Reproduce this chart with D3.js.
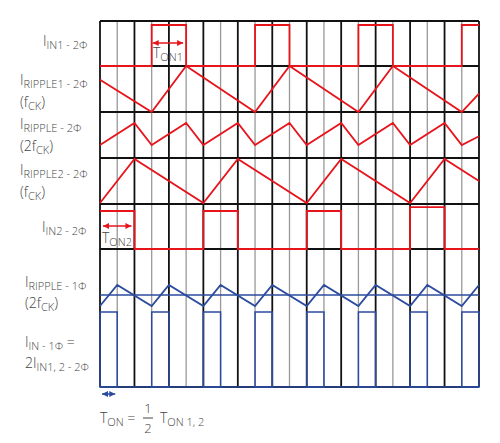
<!DOCTYPE html><html><head><meta charset="utf-8">
<script src="https://cdn.jsdelivr.net/npm/d3@7"></script>
<style>body{margin:0;background:#fff}text{font-family:"Open Sans",sans-serif;font-weight:300;fill:#444}</style></head><body>
<svg id="c" width="500" height="443"></svg>
<script>
// time in half-clock units
const ticks = d3.range(0,23);
const iin1 = [[0,0],[3,0],[3,1],[5,1],[5,0],[9,0],[9,1],[11,1],[11,0],[15,0],[15,1],[17,1],[17,0],[21,0],[21,1],[22,1]];
const ripple1 = [[0,0.7],[3,0],[5,1],[9,0],[11,1],[15,0],[17,1],[21,0],[22,0.4]];
const ripple2f = [[0,0],[2,1],[3,0],[5,1],[6,0],[8,1],[9,0],[11,1],[12,0],[14,1],[15,0],[17,1],[18,0],[20,1],[21,0],[22,0.4]];
const ripple2 = [[0,0],[2,1],[6,0],[8,1],[12,0],[14,1],[18,0],[20,1],[22,0.5]];
const iin2 = [[0,1],[2,1],[2,0],[6,0],[6,1],[8,1],[8,0],[12,0],[12,1],[14,1],[14,0],[18,0],[18,1.1],[20,1.1],[20,0],[22,0]];
const ripple1p = [[0,0],[1,1],[3,0],[4,1],[6,0],[7,1],[9,0],[10,1],[12,0],[13,1],[15,0],[16,1],[18,0],[19,1],[21,0],[22,1]];
const iin1p = [0,3,6,9,12,15,18,21];
const rowLines = [21,66,112,158,204,249,387];

const svg = d3.select("#c");
const x = d3.scaleLinear().domain([0,22]).range([100,479]);
ticks.forEach(t=>svg.append("line").attr("x1",x(t)).attr("x2",x(t)).attr("y1",21).attr("y2",387)
  .attr("stroke",t%2?"#999":"#111").attr("stroke-width",t%2?1.3:1.8));
rowLines.forEach(y=>svg.append("line").attr("x1",100).attr("x2",479).attr("y1",y).attr("y2",y).attr("stroke","#111").attr("stroke-width",1.8));
const red="#e8141c", blue="#2b4b9e";
function trace(data,y0,y1,col){
  const y=d3.scaleLinear().domain([0,1]).range([y0,y1]);
  svg.append("path").attr("d",d3.line().x(d=>x(d[0])).y(d=>y(d[1]))(data)).attr("fill","none").attr("stroke",col).attr("stroke-width",1.8);
}
trace(iin1,66,25,red);
trace(ripple1,112,66,red);
trace(ripple2f,145,123,red);
trace(ripple2,203,159,red);
trace(iin2,249,211,red);
svg.append("line").attr("x1",100).attr("x2",479).attr("y1",295).attr("y2",295).attr("stroke",blue).attr("stroke-width",1.5);
trace(ripple1p,306,285,blue);
iin1p.forEach(t=>svg.append("rect").attr("x",x(t)).attr("y",312).attr("width",x(t+1)-x(t)).attr("height",387-312).attr("fill","none").attr("stroke",blue).attr("stroke-width",1.5));
svg.append("line").attr("x1",100).attr("x2",479).attr("y1",387).attr("y2",387).attr("stroke",blue).attr("stroke-width",1.5);
function arrow(x1,x2,y,col){
  svg.append("line").attr("x1",x1).attr("x2",x2).attr("y1",y).attr("y2",y).attr("stroke",col).attr("stroke-width",1.5);
  [[x1,1],[x2,-1]].forEach(([p,s])=>svg.append("path").attr("d",`M${p},${y}l${6*s},-3l0,6z`).attr("fill",col));
}
arrow(x(3)+1,x(5)-3,43,red);
arrow(x(0)+3,x(2)-3,226,red);
arrow(x(0)+2,x(1)-2,394,blue);
function label(xp,y,parts){
  const t=svg.append("text").attr("x",xp).attr("y",y).style("font-size","14px");
  let sub=false;
  parts.forEach(p=>{const s=t.append("tspan").text(p[0]);
    if(p[1]&&!sub){s.attr("dy",3).style("font-size","11px");sub=true;}
    else if(!p[1]&&sub){s.attr("dy",-3);sub=false;}
    else if(p[1]) s.style("font-size","11px");});
}
label(43,46,[["I"],["IN1 - 2Φ",1]]);
label(20,85,[["I"],["RIPPLE1 - 2Φ",1]]);
label(20,107,[["(f"],["CK",1],[")"]]);
label(20,129,[["I"],["RIPPLE - 2Φ",1]]);
label(20,151,[["(2f"],["CK",1],[")"]]);
label(20,175,[["I"],["RIPPLE2 - 2Φ",1]]);
label(20,197,[["(f"],["CK",1],[")"]]);
label(42,232,[["I"],["IN2 - 2Φ",1]]);
label(102,243,[["T"],["ON2",1]]);
label(153,58,[["T"],["ON1",1]]);
label(25,287,[["I"],["RIPPLE - 1Φ",1]]);
label(25,308,[["(2f"],["CK",1],[")"]]);
label(25,347,[["I"],["IN - 1Φ",1],[" ="]]);
label(25,368,[["2I"],["IN1, 2 - 2Φ",1]]);
label(100,423,[["T"],["ON",1],[" = "]]);
svg.append("text").attr("x",148).attr("y",413).style("font-size","13px").attr("text-anchor","middle").text("1");
svg.append("line").attr("x1",143).attr("x2",153).attr("y1",418).attr("y2",418).attr("stroke","#444");
svg.append("text").attr("x",148).attr("y",433).style("font-size","13px").attr("text-anchor","middle").text("2");
label(160,423,[["T"],["ON 1, 2",1]]);
</script></body></html>
